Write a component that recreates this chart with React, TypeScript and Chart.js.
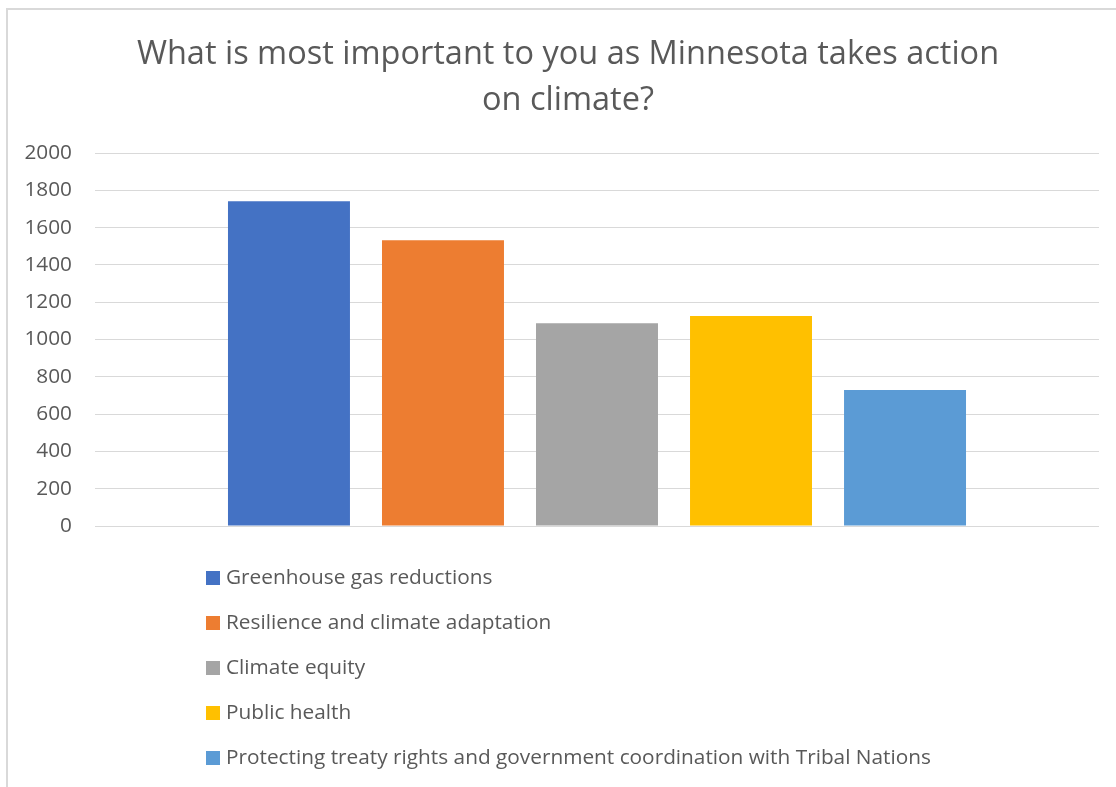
import React, { useEffect, useRef } from 'react';
import { Chart, registerables } from 'chart.js';

Chart.register(...registerables);

const titleLines = ['What is most important to you as Minnesota takes action', 'on climate?'];
const categories = [''];
const seriesNames = [
  'Greenhouse gas reductions',
  'Resilience and climate adaptation',
  'Climate equity',
  'Public health',
  'Protecting treaty rights and government coordination with Tribal Nations',
];
const seriesValues = [1742, 1533, 1088, 1126, 729];
const seriesColors = ['#4472C4', '#ED7D31', '#A5A5A5', '#FFC000', '#5B9BD5'];
const yTicks = [0, 200, 400, 600, 800, 1000, 1200, 1400, 1600, 1800, 2000];
const yTickLabels = ['0', '200', '400', '600', '800', '1000', '1200', '1400', '1600', '1800', '2000'];

const FONT = '"Open Sans", "Noto Sans", sans-serif';
const TEXT_COLOR = '#595959';
const GRID_COLOR = '#d9d9d9';
const SMALL = 20.8;
const BIG = 32.5;

// Excel centres the title over the whole chart object; shift Chart.js's title box to match.
const titleShift = {
  id: 'titleShift',
  afterLayout(chart: any) {
    const t = chart.titleBlock;
    if (t) t.left += 25;
  },
};

const verticalLegend = {
  id: 'verticalLegend',
  afterDraw(chart: any) {
    const { ctx, chartArea } = chart;
    const x0 = chartArea.left + 111;
    const y0 = chartArea.bottom + 52;
    const step = 45;
    ctx.save();
    ctx.font = `${SMALL}px ${FONT}`;
    ctx.textBaseline = 'middle';
    ctx.textAlign = 'left';
    chart.data.datasets.forEach((ds: any, i: number) => {
      const y = y0 + i * step;
      ctx.fillStyle = ds.backgroundColor;
      ctx.fillRect(x0, y - 7, 14, 14);
      ctx.fillStyle = TEXT_COLOR;
      ctx.fillText(ds.label, x0 + 20, y + 0.5);
    });
    ctx.restore();
  },
};

export default function App() {
  const canvasRef = useRef<HTMLCanvasElement | null>(null);

  useEffect(() => {
    if (!canvasRef.current) return;
    const chart = new Chart(canvasRef.current, {
      type: 'bar',
      data: {
        labels: categories,
        datasets: seriesNames.map((name, i) => ({
          label: name,
          data: [seriesValues[i]],
          backgroundColor: seriesColors[i],
          borderWidth: 0,
          categoryPercentage: 0.767,
          barPercentage: 0.792,
        })),
      },
      options: {
        animation: false,
        responsive: false,
        devicePixelRatio: 1,
        layout: { padding: { left: 12, right: 17, top: 0, bottom: 261 } },
        plugins: {
          legend: { display: false },
          tooltip: { enabled: false },
          title: {
            display: true,
            text: titleLines,
            color: TEXT_COLOR,
            font: { family: FONT, size: BIG, weight: 'normal', lineHeight: 1.42 },
            padding: { top: 32, bottom: 28.8 },
          },
        },
        scales: {
          x: { display: false },
          y: {
            min: 0,
            max: 2000,
            afterBuildTicks: (scale: any) => {
              scale.ticks = yTicks.map((v) => ({ value: v }));
            },
            afterFit: (scale: any) => {
              scale.width = 83;
            },
            ticks: {
              color: TEXT_COLOR,
              font: { family: FONT, size: SMALL },
              padding: 23,
              callback: (value: any) => {
                const idx = yTicks.indexOf(Number(value));
                return idx >= 0 ? yTickLabels[idx] : String(value);
              },
            },
            grid: { color: GRID_COLOR, lineWidth: 1, drawTicks: false },
            border: { display: false },
          },
        },
      },
      plugins: [titleShift, verticalLegend],
    });
    return () => chart.destroy();
  }, []);

  return (
    <div style={{ position: 'absolute', left: 0, top: 0, width: 1116, height: 787, overflow: 'hidden', background: '#ffffff' }}>
      <div
        style={{
          position: 'absolute',
          left: 6,
          top: 8,
          width: 2000,
          height: 2000,
          borderLeft: `2px solid ${GRID_COLOR}`,
          borderTop: `2px solid ${GRID_COLOR}`,
        }}
      />
      <canvas ref={canvasRef} width={1116} height={787} style={{ position: 'absolute', left: 0, top: 0, width: 1116, height: 787 }} />
    </div>
  );
}
